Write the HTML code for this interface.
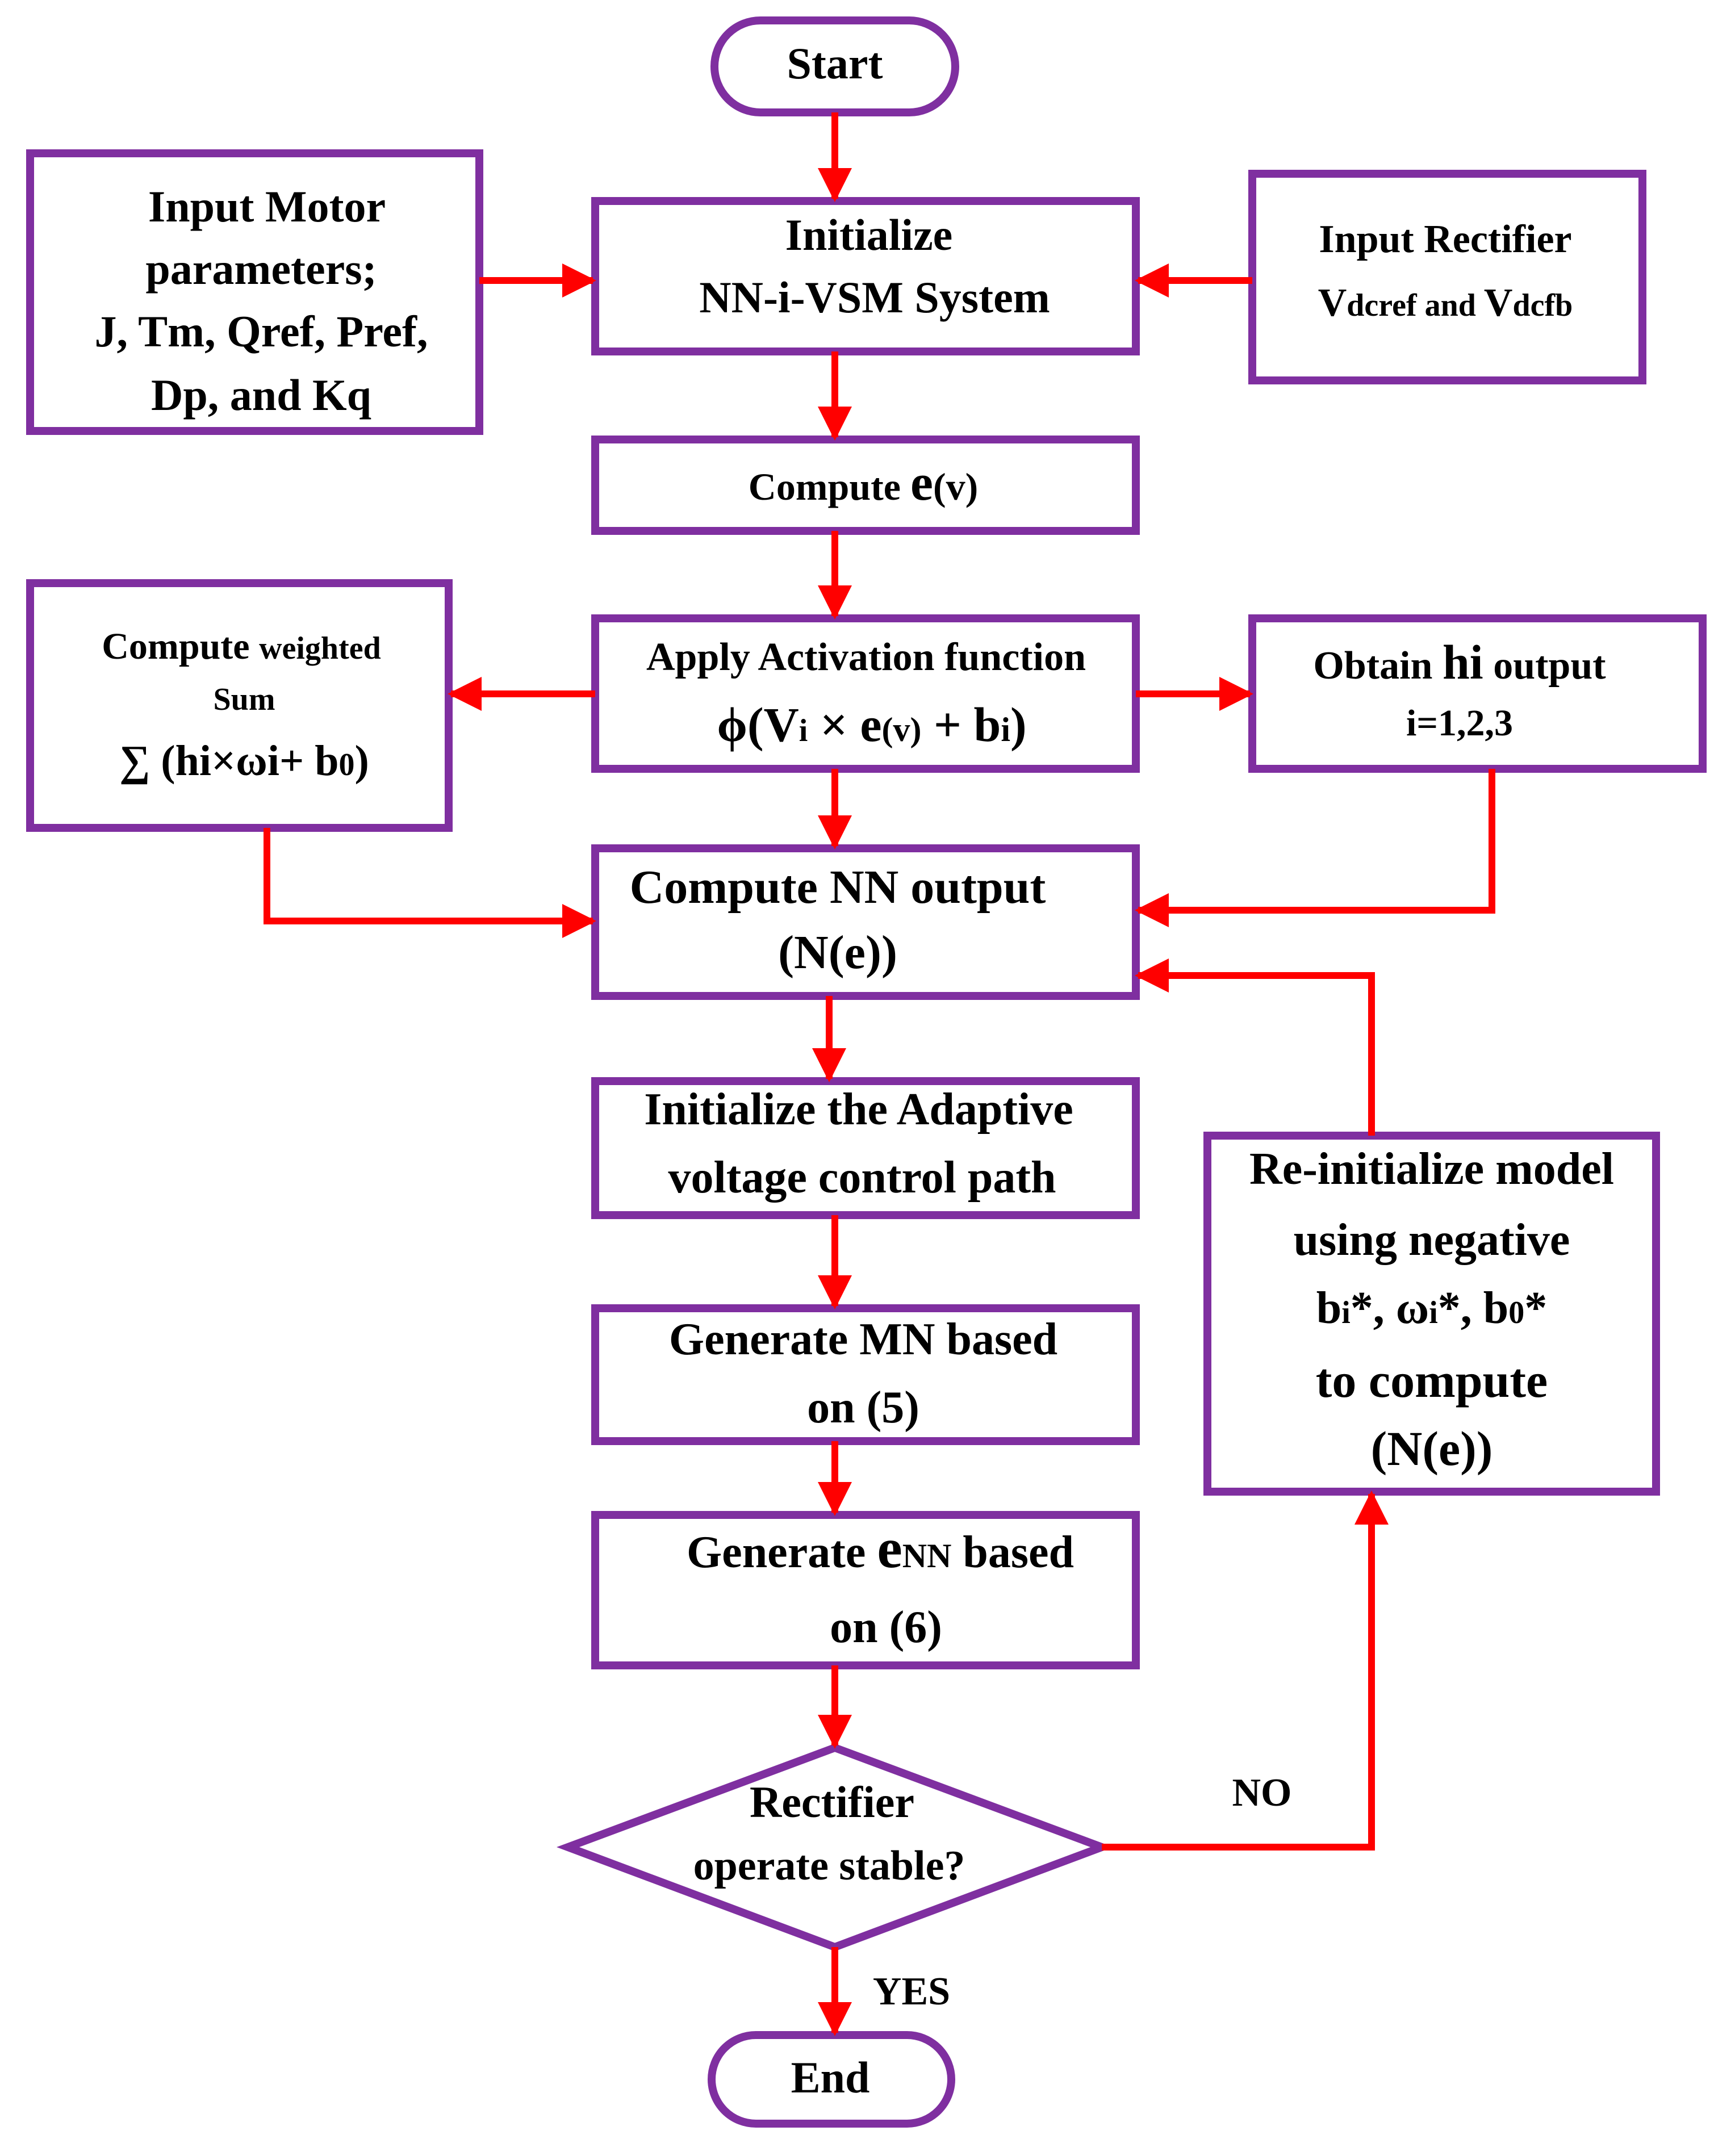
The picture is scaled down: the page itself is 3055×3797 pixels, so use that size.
<!DOCTYPE html>
<html><head><style>
html,body{margin:0;padding:0;background:#fff;}
svg{display:block;}
text{font-family:"Liberation Serif",serif;font-weight:bold;fill:#000;text-anchor:middle;}
</style></head><body>
<svg width="3055" height="3797" viewBox="0 0 3055 3797" xmlns="http://www.w3.org/2000/svg">
<defs>
<marker id="a" markerWidth="5" markerHeight="5" refX="4.5" refY="2.5" orient="auto" markerUnits="strokeWidth">
<path d="M0,0 L5,2.5 L0,5 Z" fill="#ff0000"/></marker>
</defs>
<g fill="#fff" stroke="#7f2fa0" stroke-width="14">
<rect x="1258" y="36" width="424" height="162" rx="81"/>
<rect x="1048" y="354" width="952" height="265"/>
<rect x="53" y="270" width="791" height="489"/>
<rect x="2205" y="306" width="687" height="364"/>
<rect x="1048" y="774" width="952" height="161"/>
<rect x="1048" y="1089" width="952" height="265"/>
<rect x="53" y="1027" width="737" height="431"/>
<rect x="2205" y="1089" width="793" height="265"/>
<rect x="1048" y="1494" width="952" height="260"/>
<rect x="1048" y="1904" width="952" height="236"/>
<rect x="1048" y="2304" width="952" height="234"/>
<rect x="1048" y="2668" width="952" height="265"/>
<rect x="2126" y="2000" width="790" height="627"/>
<polygon points="1470,3078 1940,3253 1470,3429 1000,3253"/>
<rect x="1253" y="3584" width="422" height="156" rx="78"/>
</g>
<g stroke="#ff0000" stroke-width="12" fill="none" marker-end="url(#a)">
<path d="M1470,198 V350"/>
<path d="M844,494 H1044"/>
<path d="M2205,494 H2004"/>
<path d="M1470,619 V770"/>
<path d="M1470,935 V1085"/>
<path d="M1048,1222 H794"/>
<path d="M2000,1222 H2201"/>
<path d="M1470,1354 V1490"/>
<path d="M470,1458 V1622 H1044"/>
<path d="M2627,1354 V1603 H2004"/>
<path d="M2415,2000 V1718 H2004"/>
<path d="M1460,1754 V1900"/>
<path d="M1470,2140 V2300"/>
<path d="M1470,2538 V2664"/>
<path d="M1470,2933 V3074"/>
<path d="M1940,3253 H2415 V2631"/>
<path d="M1470,3429 V3580"/>
</g>
<g font-size="78">
<text x="1470" y="138">Start</text>
<text x="1530" y="440">Initialize</text>
<text x="1540" y="550">NN-i-VSM System</text>
<text x="470" y="390">Input Motor</text>
<text x="460" y="500">parameters;</text>
<text x="460" y="610">J, Tm, Qref,  Pref,</text>
<text x="460" y="722">Dp, and Kq</text>
<text x="2545" y="444" font-size="70">Input Rectifier</text>
<text x="2545" y="556" font-size="70">V<tspan font-size="56">dcref and </tspan>V<tspan font-size="56">dcfb</tspan></text>
<text x="1520" y="880" font-size="68">Compute <tspan font-size="90">e</tspan>(v)</text>
<text x="1525" y="1180" font-size="70">Apply Activation function</text>
<text x="1535" y="1305" font-size="86">ϕ(V<tspan font-size="56">i</tspan> × e<tspan font-size="60">(v)</tspan> + b<tspan font-size="60">i</tspan>)</text>
<text x="425" y="1160" font-size="66">Compute  <tspan font-size="56">weighted</tspan></text>
<text x="430" y="1250" font-size="56">Sum</text>
<text x="430" y="1365" font-size="76">∑ (hi×ωi+ b<tspan font-size="56">0</tspan>)</text>
<text x="2570" y="1195" font-size="70">Obtain <tspan font-size="86">hi</tspan> output</text>
<text x="2570" y="1295" font-size="66">i=1,2,3</text>
<text x="1475" y="1590" font-size="84">Compute  NN output</text>
<text x="1475" y="1705" font-size="84">(N(e))</text>
<text x="1512" y="1980" font-size="80">Initialize the Adaptive</text>
<text x="1518" y="2100" font-size="80">voltage control path</text>
<text x="1520" y="2385" font-size="80">Generate MN based</text>
<text x="1520" y="2505" font-size="80">on (5)</text>
<text x="1550" y="2760" font-size="80">Generate <tspan font-size="100">e</tspan><tspan font-size="60">NN</tspan> based</text>
<text x="1560" y="2892" font-size="80">on (6)</text>
<text x="2521" y="2085" font-size="80">Re-initialize model</text>
<text x="2521" y="2210" font-size="80">using negative</text>
<text x="2521" y="2330" font-size="80">b<tspan font-size="56">i</tspan>*, ω<tspan font-size="56">i</tspan>*, b<tspan font-size="56">0</tspan>*</text>
<text x="2521" y="2460" font-size="86">to compute</text>
<text x="2521" y="2580" font-size="86">(N(e))</text>
<text x="1465" y="3200" font-size="78">Rectifier</text>
<text x="1460" y="3310" font-size="74">operate stable?</text>
<text x="2222" y="3180" font-size="70">NO</text>
<text x="1605" y="3530" font-size="70">YES</text>
<text x="1462" y="3685">End</text>
</g>
</svg>
</body></html>
